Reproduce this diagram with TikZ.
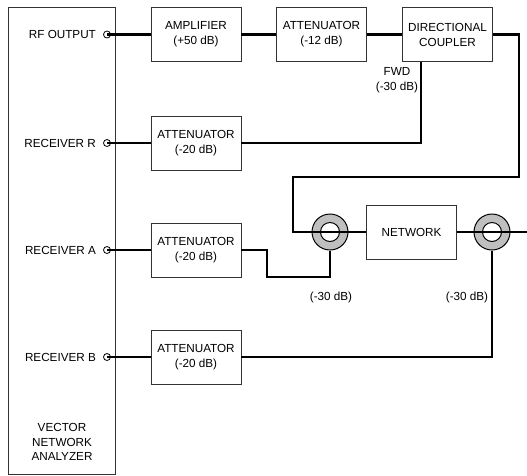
\documentclass[tikz,border=0pt]{standalone}
\usepackage{fontspec}
\setmainfont{Liberation Sans}
\usetikzlibrary{positioning}

\begin{document}
\begin{tikzpicture}[x=1pt,y=-1pt,
    font=\fontsize{11.7}{15}\selectfont,
    blk/.style={draw=black!80,line width=0.9pt,fill=white,minimum width=90pt,minimum height=54pt,align=center,inner sep=1pt},
    wire/.style={line width=2.1pt,black},
    port/.style={circle,draw,line width=0.8pt,inner sep=0pt,minimum size=7pt},
    ring/.style={circle,draw,line width=1pt,fill=black!25,minimum size=36pt,inner sep=0pt},
    hole/.style={circle,draw,line width=1pt,fill=white,minimum size=19pt,inner sep=0pt}]
  \useasboundingbox (0,0) rectangle (527,475);

  % analyzer
  \node[draw=black!80,line width=0.9pt,minimum width=107pt,minimum height=467pt] (vna) at (61.5,240.5) {};
  \node[align=center,font=\fontsize{11.7}{14.5}\selectfont] (vnaname) at (62,442) {VECTOR\\NETWORK\\ANALYZER};

  \node[port] (prf) at (107,34.5) {};
  \node[port] (pr) at (107,143) {};
  \node[port] (pa) at (107,250) {};
  \node[port] (pb) at (107,357) {};
  \node[left=7pt of prf,inner sep=0pt] (lrf) {RF OUTPUT};
  \node[left=7pt of pr,inner sep=0pt] (lr) {RECEIVER R};
  \node[left=7pt of pa,inner sep=0pt] (la) {RECEIVER A};
  \node[left=7pt of pb,inner sep=0pt] (lb) {RECEIVER B};

  % blocks
  \node[blk] (amp) at (196,34.5) {AMPLIFIER\\(+50 dB)};
  \node[blk] (att12) at (321.5,34.5) {ATTENUATOR\\(-12 dB)};
  \node[blk] (dc) at (447.5,34.5) {DIRECTIONAL\\COUPLER};
  \node[blk] (attR) at (196,143) {ATTENUATOR\\(-20 dB)};
  \node[blk] (attA) at (196,250) {ATTENUATOR\\(-20 dB)};
  \node[blk] (attB) at (196,357) {ATTENUATOR\\(-20 dB)};
  \node[blk] (net) at (411.5,232) {NETWORK};

  % couplers
  \node[ring] (ca) at (330,232) {};
  \node[hole] (cah) at (ca) {};
  \node[ring] (cb) at (492,232) {};
  \node[hole] (cbh) at (cb) {};
  \coordinate (out) at (527,232);

  % wiring
  \draw[wire] (prf.center) -- (amp.west);
  \draw[wire] (amp.east) -- (att12.west);
  \draw[wire] (att12.east) -- (dc.west);
  \draw[wire] (dc.east) -| (519,177) -| (293,232) -- (net.west);
  \draw[wire] ([xshift=-26.5pt]dc.south) |- (attR.east);
  \draw[wire] (pr.center) -- (attR.west);
  \draw[wire] (pa.center) -- (attA.west);
  \draw[wire] (attA.east) -| (267,277) -| (ca.south);
  \draw[wire] (pb.center) -- (attB.west);
  \draw[wire] (attB.east) -| (cb.south);
  \draw[wire] (net.east) -- (out);

  % labels
  \node[align=center] (fwd) at (397,80) {FWD\\(-30 dB)};
  \node (la30) at (331,297) {(-30 dB)};
  \node (lb30) at (467,297) {(-30 dB)};
\end{tikzpicture}
\end{document}
